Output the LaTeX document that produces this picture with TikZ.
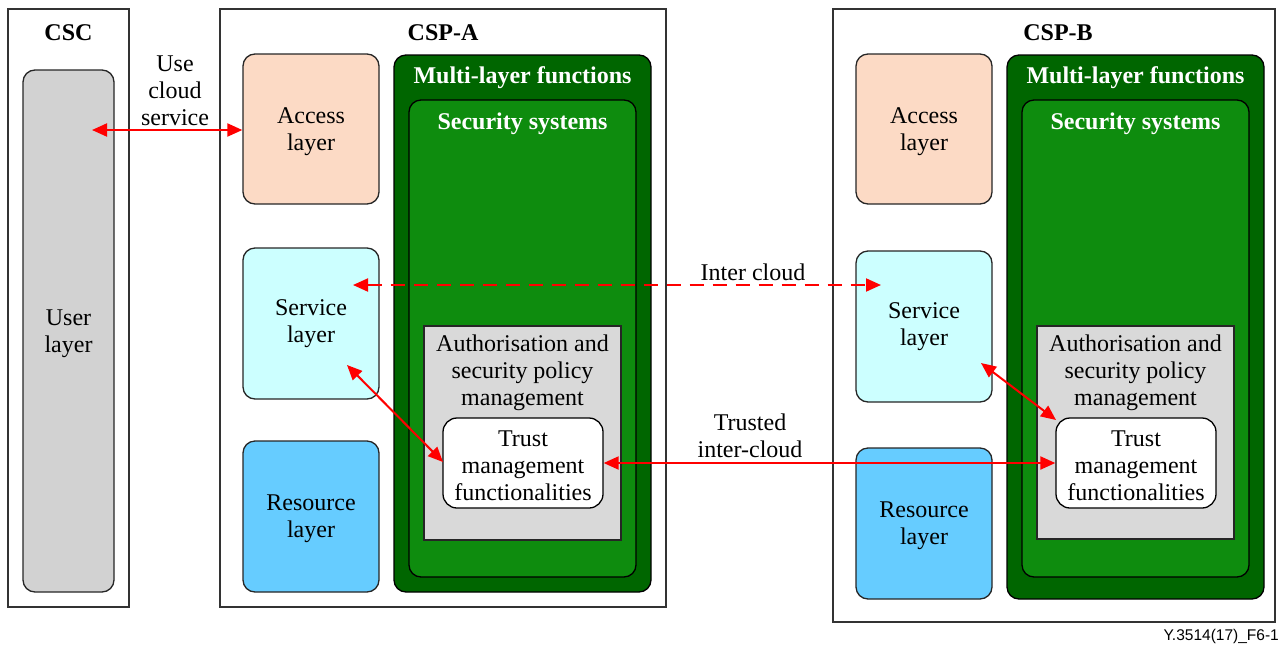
\documentclass[tikz,border=0pt]{standalone}
\usepackage{fontspec}
\setmainfont{Liberation Serif}
\newfontfamily\figsans{Liberation Sans}
\usetikzlibrary{arrows.meta}
\definecolor{peach}{HTML}{FCDAC5}
\definecolor{paleCyan}{HTML}{CCFFFF}
\definecolor{skyBlue}{HTML}{66CCFF}
\definecolor{darkGreen}{HTML}{006600}
\definecolor{midGreen}{HTML}{0E8C0E}
\definecolor{lightGray}{HTML}{D9D9D9}
\definecolor{userGray}{HTML}{D2D2D2}
\definecolor{lineRed}{HTML}{FF0000}
\tikzset{
  x=1pt, y=-1pt,
  txt/.style={font=\fontsize{24}{27}\selectfont, align=center, inner sep=0pt, yshift=-2.5pt},
  btxt/.style={txt, font=\fontsize{24}{27}\selectfont\bfseries},
  frame/.style={draw=black!80, line width=1.1pt, inner sep=0pt},
  layer/.style={draw=black!85, line width=1.3pt, rounded corners=12pt, inner sep=0pt,
    minimum width=136pt},
  greenbox/.style={draw=black, line width=1.3pt, rounded corners=12pt, inner sep=0pt},
  authbox/.style={draw=black!85, fill=lightGray, line width=1.3pt, inner sep=0pt,
    minimum width=197pt},
  trustbox/.style={draw=black, fill=white, line width=1.3pt, rounded corners=14pt,
    minimum width=160pt, minimum height=90pt, inner sep=0pt},
  arr/.style={draw=lineRed, line width=2pt,
    {Triangle[length=15pt,width=13pt]}-{Triangle[length=15pt,width=13pt]}},
}
\begin{document}
\begin{tikzpicture}
\useasboundingbox (0,0) rectangle (1282,646);

% ---- Cloud service customer ----
\node[frame, minimum width=121pt, minimum height=598pt] (csc) at (68.5,308) {};
\node[btxt] (csclbl) at (68.5,30) {CSC};
\node[layer, fill=userGray, minimum width=91pt, minimum height=522pt] (user) at (68.5,331) {};
\node[txt] (userlbl) at (user.center) {User\\layer};

% ---- Provider A ----
\node[frame, minimum width=446pt, minimum height=598pt] (cspa) at (443,308) {};
\node[btxt] (cspalbl) at (443,30) {CSP-A};
\node[layer, fill=peach, minimum height=150pt] (accA) at (311,129) {};
\node[txt] (accAlbl) at (accA.center) {Access\\layer};
\node[layer, fill=paleCyan, minimum height=151pt] (servA) at (311,323.5) {};
\node[txt] (servAlbl) at (311,321.5) {Service\\layer};
\node[layer, fill=skyBlue, minimum height=151pt] (resA) at (311,516.5) {};
\node[txt] (resAlbl) at (resA.center) {Resource\\layer};
\node[greenbox, fill=darkGreen, minimum width=257pt, minimum height=537pt] (multA) at (522.5,323.5) {};
\node[btxt, text=white] (multAlbl) at (522.5,75) {Multi-layer functions};
\node[greenbox, fill=midGreen, minimum width=227pt, minimum height=477pt] (secA) at (522.5,338.5) {};
\node[btxt, text=white] (secAlbl) at (522.5,121) {Security systems};
\node[authbox, minimum height=214pt] (authA) at (522.5,433) {};
\node[txt] (authAlbl) at (522.5,370) {Authorisation and\\security policy\\management};
\node[trustbox] (trustA) at (523,463) {};
\node[txt] (trustAlbl) at (trustA.center) {Trust\\management\\functionalities};

% ---- Provider B ----
\node[frame, minimum width=442pt, minimum height=613pt] (cspb) at (1054,315.5) {};
\node[btxt] (cspblbl) at (1058,30) {CSP-B};
\node[layer, fill=peach, minimum height=150pt] (accB) at (924,129) {};
\node[txt] (accBlbl) at (accB.center) {Access\\layer};
\node[layer, fill=paleCyan, minimum height=151pt] (servB) at (924,326.5) {};
\node[txt] (servBlbl) at (924,324.5) {Service\\layer};
\node[layer, fill=skyBlue, minimum height=151pt] (resB) at (924,523.5) {};
\node[txt] (resBlbl) at (resB.center) {Resource\\layer};
\node[greenbox, fill=darkGreen, minimum width=257pt, minimum height=544pt] (multB) at (1135.5,327) {};
\node[btxt, text=white] (multBlbl) at (1135.5,75) {Multi-layer functions};
\node[greenbox, fill=midGreen, minimum width=227pt, minimum height=477pt] (secB) at (1135.5,338.5) {};
\node[btxt, text=white] (secBlbl) at (1135.5,121) {Security systems};
\node[authbox, minimum height=213pt] (authB) at (1135.5,432.5) {};
\node[txt] (authBlbl) at (1135.5,370) {Authorisation and\\security policy\\management};
\node[trustbox] (trustB) at (1136,463) {};
\node[txt] (trustBlbl) at (trustB.center) {Trust\\management\\functionalities};

% ---- Connector ends inside the layer boxes ----
\coordinate (userEnd) at (92,130);
\coordinate (servAin) at (353,285);
\coordinate (servBin) at (881,285);
\coordinate (servAlow) at (347,365);
\coordinate (trustAin) at (443,462);
\coordinate (servBlow) at (981,363);
\coordinate (trustBin) at (1056,420);

% ---- Connectors ----
\draw[arr] (userEnd) -- (userEnd -| accA.west);
\node[txt] (uselbl) at (175,88) {Use\\cloud\\service};

\draw[arr, dash pattern=on 14pt off 9pt] (servAin) -- (servBin);
\node[txt, fill=white, inner xsep=4pt, inner ysep=1pt] (interlbl) at (753,270) {Inter cloud};

\draw[arr] (servAlow) -- (trustAin);
\draw[arr] (trustA.east) -- (trustB.west);
\node[txt] (trustedlbl) at (750,433) {Trusted\\inter-cloud};
\draw[arr] (servBlow) -- (trustBin);

% ---- Figure reference ----
\node[font=\figsans\fontsize{15.5}{18}\selectfont, anchor=east, inner sep=0pt] (figref) at (1279,636) {Y.3514(17)\_F6-1};
\end{tikzpicture}
\end{document}
